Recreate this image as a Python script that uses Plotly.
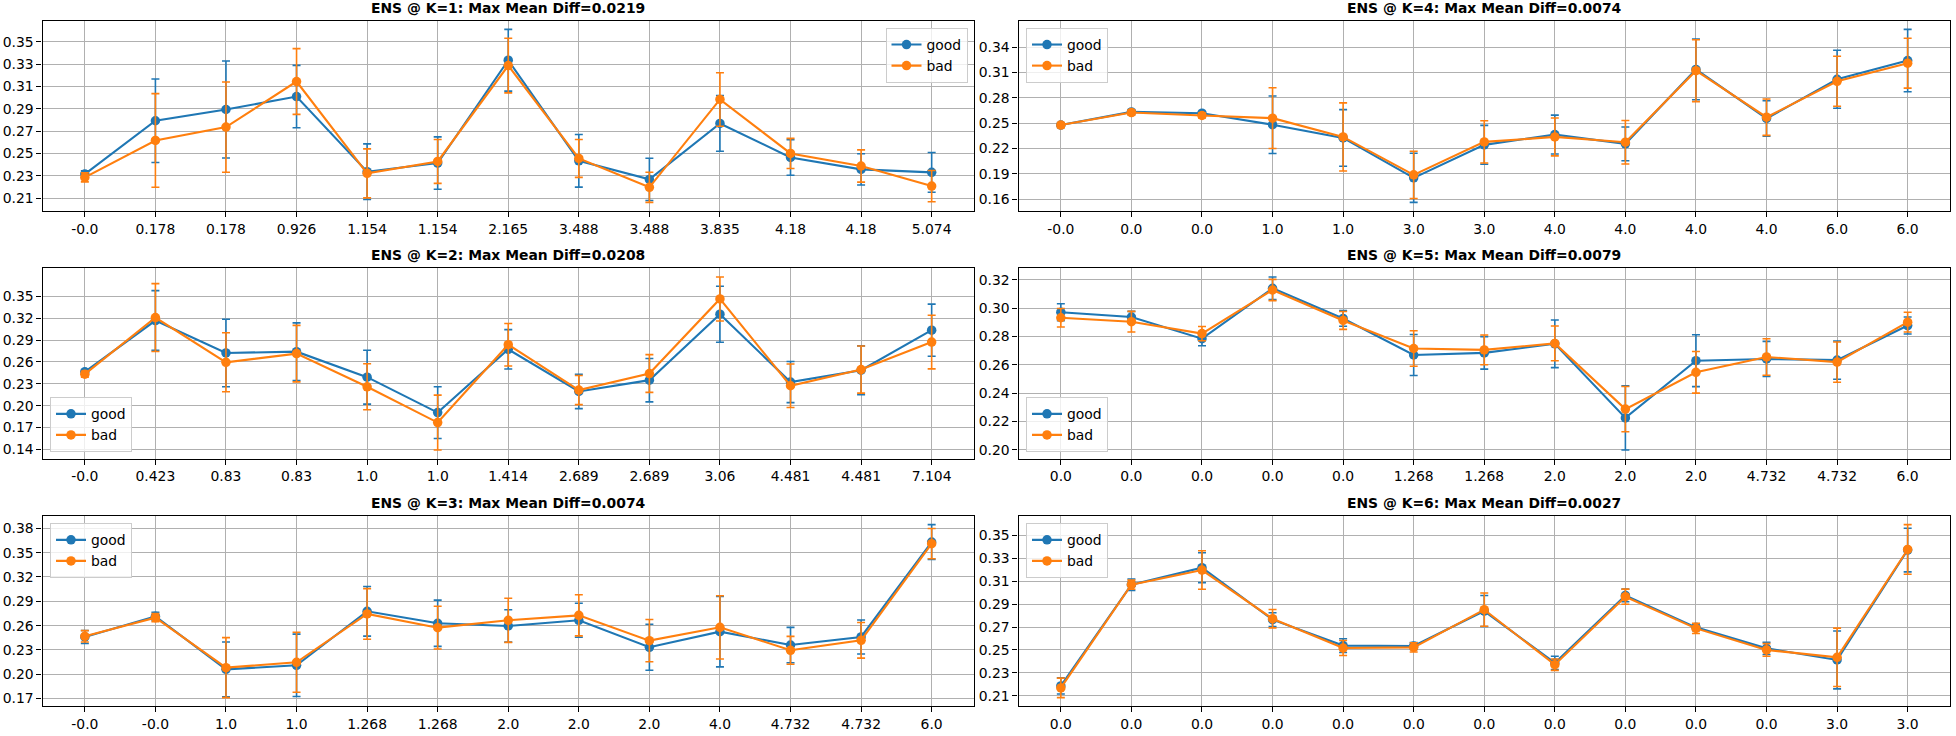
import plotly.graph_objects as go

# ---------------- data ----------------
k_values = [1, 2, 3, 4, 5, 6]
max_mean_diff = ["0.0219", "0.0208", "0.0074", "0.0074", "0.0079", "0.0027"]

x_labels_k1 = ['-0.0', '0.178', '0.178', '0.926', '1.154', '1.154', '2.165', '3.488', '3.488', '3.835', '4.18', '4.18', '5.074']
x_labels_k2 = ['-0.0', '0.423', '0.83', '0.83', '1.0', '1.0', '1.414', '2.689', '2.689', '3.06', '4.481', '4.481', '7.104']
x_labels_k3 = ['-0.0', '-0.0', '1.0', '1.0', '1.268', '1.268', '2.0', '2.0', '2.0', '4.0', '4.732', '4.732', '6.0']
x_labels_k4 = ['-0.0', '0.0', '0.0', '1.0', '1.0', '3.0', '3.0', '4.0', '4.0', '4.0', '4.0', '6.0', '6.0']
x_labels_k5 = ['0.0', '0.0', '0.0', '0.0', '0.0', '1.268', '1.268', '2.0', '2.0', '2.0', '4.732', '4.732', '6.0']
x_labels_k6 = ['0.0', '0.0', '0.0', '0.0', '0.0', '0.0', '0.0', '0.0', '0.0', '0.0', '0.0', '3.0', '3.0']

y_ticks_k1 = [0.21, 0.23, 0.25, 0.27, 0.29, 0.31, 0.33, 0.35]
y_ticks_k2 = [0.14, 0.17, 0.20, 0.23, 0.26, 0.29, 0.32, 0.35]
y_ticks_k3 = [0.17, 0.20, 0.23, 0.26, 0.29, 0.32, 0.35, 0.38]
y_ticks_k4 = [0.16, 0.19, 0.22, 0.25, 0.28, 0.31, 0.34]
y_ticks_k5 = [0.20, 0.22, 0.24, 0.26, 0.28, 0.30, 0.32]
y_ticks_k6 = [0.21, 0.23, 0.25, 0.27, 0.29, 0.31, 0.33, 0.35]

good_mean_k1 = [0.2315, 0.2793, 0.2894, 0.3010, 0.2336, 0.2413, 0.3336, 0.2434, 0.2267, 0.2769, 0.2464, 0.2357, 0.2330]
good_err_k1 = [0.003, 0.0375, 0.0435, 0.028, 0.025, 0.0235, 0.0277, 0.0236, 0.019, 0.025, 0.016, 0.014, 0.0178]
bad_mean_k1 = [0.2285, 0.2616, 0.2736, 0.3145, 0.2321, 0.2428, 0.3288, 0.2455, 0.2196, 0.2984, 0.2500, 0.2387, 0.2207]
bad_err_k1 = [0.004, 0.042, 0.0405, 0.0295, 0.022, 0.0197, 0.0245, 0.017, 0.0135, 0.024, 0.0135, 0.0145, 0.014]

good_mean_k2 = [0.2464, 0.3168, 0.2723, 0.2741, 0.2391, 0.1905, 0.2773, 0.2195, 0.2350, 0.3255, 0.2323, 0.2486, 0.3036]
good_err_k2 = [0.003, 0.041, 0.0463, 0.0395, 0.037, 0.0355, 0.027, 0.0236, 0.0298, 0.0384, 0.0282, 0.0335, 0.0357]
bad_mean_k2 = [0.2432, 0.3209, 0.2595, 0.2714, 0.2259, 0.1768, 0.2836, 0.2214, 0.2441, 0.3464, 0.2273, 0.2495, 0.2873]
bad_err_k2 = [0.004, 0.0466, 0.0405, 0.0387, 0.0316, 0.0377, 0.0291, 0.020, 0.0259, 0.0302, 0.0298, 0.0323, 0.0368]

good_mean_k3 = [0.2460, 0.2715, 0.2061, 0.2111, 0.2777, 0.2629, 0.2596, 0.2666, 0.2333, 0.2526, 0.2361, 0.2460, 0.3631]
good_err_k3 = [0.008, 0.005, 0.0337, 0.0384, 0.0306, 0.0285, 0.020, 0.021, 0.0284, 0.0434, 0.0218, 0.021, 0.0214]
bad_mean_k3 = [0.2468, 0.2698, 0.2082, 0.2148, 0.2744, 0.2575, 0.2666, 0.2727, 0.2415, 0.2579, 0.2296, 0.2419, 0.3611]
bad_err_k3 = [0.007, 0.005, 0.037, 0.037, 0.0312, 0.0263, 0.0272, 0.0253, 0.026, 0.039, 0.0172, 0.022, 0.0187]

good_mean_k4 = [0.2477, 0.2633, 0.2617, 0.2481, 0.2325, 0.1853, 0.2243, 0.2364, 0.2255, 0.3135, 0.2555, 0.3018, 0.3240]
good_err_k4 = [0.002, 0.002, 0.002, 0.034, 0.0335, 0.029, 0.023, 0.023, 0.020, 0.0358, 0.021, 0.0343, 0.0369]
bad_mean_k4 = [0.2477, 0.2625, 0.2590, 0.2559, 0.2337, 0.1888, 0.2278, 0.2337, 0.2274, 0.3120, 0.2570, 0.2995, 0.3209]
bad_err_k4 = [0.003, 0.003, 0.003, 0.036, 0.0403, 0.028, 0.025, 0.0224, 0.0257, 0.0366, 0.0215, 0.0295, 0.0295]

good_mean_k5 = [0.2971, 0.2937, 0.2784, 0.3140, 0.2927, 0.2669, 0.2684, 0.2748, 0.2225, 0.2629, 0.2641, 0.2633, 0.2877]
good_err_k5 = [0.006, 0.004, 0.005, 0.008, 0.0055, 0.0145, 0.0115, 0.0168, 0.0227, 0.0183, 0.0124, 0.0135, 0.006]
bad_mean_k5 = [0.2932, 0.2904, 0.2820, 0.3128, 0.2913, 0.2715, 0.2705, 0.2751, 0.2287, 0.2547, 0.2655, 0.2619, 0.2901]
bad_err_k5 = [0.0065, 0.0073, 0.005, 0.0075, 0.0063, 0.0125, 0.0105, 0.0123, 0.016, 0.0147, 0.0129, 0.0142, 0.007]

good_mean_k6 = [0.2187, 0.3068, 0.3216, 0.2764, 0.2538, 0.2535, 0.2839, 0.2387, 0.2975, 0.2697, 0.2514, 0.2413, 0.3370]
good_err_k6 = [0.007, 0.005, 0.013, 0.006, 0.006, 0.003, 0.0135, 0.0058, 0.0055, 0.003, 0.0053, 0.0252, 0.019]
bad_mean_k6 = [0.2170, 0.3068, 0.3196, 0.2772, 0.2517, 0.2523, 0.2851, 0.2372, 0.2964, 0.2688, 0.2500, 0.2436, 0.3375]
bad_err_k6 = [0.0085, 0.004, 0.0168, 0.008, 0.0065, 0.004, 0.0145, 0.005, 0.0066, 0.0045, 0.0055, 0.0254, 0.0216]

series_names = ["good", "bad"]

# ---------------- figure ----------------
W, H = 1956, 736
BLUE, ORANGE = "#1f77b4", "#ff7f0e"
FONT = "DejaVu Sans"
FS = 13.9

panels = {
    1: (x_labels_k1, y_ticks_k1, good_mean_k1, good_err_k1, bad_mean_k1, bad_err_k1),
    2: (x_labels_k2, y_ticks_k2, good_mean_k2, good_err_k2, bad_mean_k2, bad_err_k2),
    3: (x_labels_k3, y_ticks_k3, good_mean_k3, good_err_k3, bad_mean_k3, bad_err_k3),
    4: (x_labels_k4, y_ticks_k4, good_mean_k4, good_err_k4, bad_mean_k4, bad_err_k4),
    5: (x_labels_k5, y_ticks_k5, good_mean_k5, good_err_k5, bad_mean_k5, bad_err_k5),
    6: (x_labels_k6, y_ticks_k6, good_mean_k6, good_err_k6, bad_mean_k6, bad_err_k6),
}


def fx(p):
    return p / W


def fy(p):
    return (H - p) / H


# pixel boxes (left, right) and (top, bottom)
col_px = [(42.5, 974.0), (1018.5, 1950.0)]
row_px = [(20.7, 211.0), (268.3, 458.7), (516.0, 706.3)]

legend_pos = {
    1: dict(x=fx(974 - 6.5), xanchor="right", y=fy(28), yanchor="top"),
    2: dict(x=fx(50), xanchor="left", y=fy(452.3), yanchor="bottom"),
    3: dict(x=fx(50), xanchor="left", y=fy(523.3), yanchor="top"),
    4: dict(x=fx(1026), xanchor="left", y=fy(28), yanchor="top"),
    5: dict(x=fx(1026), xanchor="left", y=fy(452.3), yanchor="bottom"),
    6: dict(x=fx(1026), xanchor="left", y=fy(523.3), yanchor="top"),
}

fig = go.Figure()
layout = {}
annotations = []

for idx, k in enumerate(k_values):
    col = 0 if k <= 3 else 1
    row = (k - 1) % 3
    xl, xr = col_px[col]
    yt, yb = row_px[row]
    xd = [fx(xl), fx(xr)]
    yd = [fy(yb), fy(yt)]
    xlabels, yticks, gm, ge, bm, be = panels[k]
    n = len(xlabels)
    xs = list(range(n))
    axn = "" if k == 1 else str(k)
    leg = "legend" if k == 1 else "legend%d" % k

    for name, mean, err, color in [(series_names[0], gm, ge, BLUE), (series_names[1], bm, be, ORANGE)]:
        fig.add_trace(go.Scatter(
            x=xs, y=mean, name=name, mode="lines+markers",
            line=dict(color=color, width=2.1),
            marker=dict(color=color, size=9.5),
            error_y=dict(type="data", array=err, visible=True, color=color, thickness=1.6, width=4),
            xaxis="x" + axn, yaxis="y" + axn, legend=leg, showlegend=True,
        ))

    lo = min(min(m - e for m, e in zip(gm, ge)), min(m - e for m, e in zip(bm, be)))
    hi = max(max(m + e for m, e in zip(gm, ge)), max(m + e for m, e in zip(bm, be)))
    pad = 0.05 * (hi - lo)

    axis_common = dict(
        showline=True, linecolor="black", linewidth=1.1, mirror=True,
        ticks="outside", ticklen=5, tickwidth=1.1, tickcolor="black",
        showgrid=True, gridcolor="#b0b0b0", gridwidth=1.1, zeroline=False,
        tickfont=dict(family=FONT, size=FS, color="black"),
    )
    layout["xaxis" + axn] = dict(
        axis_common, domain=xd, anchor="y" + axn, range=[-0.6, n - 1 + 0.6],
        tickmode="array", tickvals=xs, ticktext=xlabels,
    )
    layout["yaxis" + axn] = dict(
        axis_common, domain=yd, anchor="x" + axn, range=[lo - pad, hi + pad],
        tickmode="array", tickvals=yticks, ticktext=["%.2f" % t for t in yticks],
    )
    layout[leg] = dict(
        legend_pos[k], bgcolor="rgba(255,255,255,0.8)", bordercolor="#cccccc", borderwidth=1,
        font=dict(family=FONT, size=FS, color="black"), itemwidth=30, tracegroupgap=0,
    )
    annotations.append(dict(
        text="<b>ENS @ K=%d: Max Mean Diff=%s</b>" % (k, max_mean_diff[idx]),
        xref="paper", yref="paper", x=(xd[0] + xd[1]) / 2, y=yd[1],
        xanchor="center", yanchor="bottom", yshift=3, showarrow=False,
        font=dict(family=FONT, size=FS, color="black"),
    ))

fig.update_layout(
    width=W, height=H, margin=dict(l=0, r=0, t=0, b=0),
    paper_bgcolor="white", plot_bgcolor="white",
    font=dict(family=FONT, size=FS, color="black"),
    annotations=annotations, **layout,
)

# remove the page's default body margin so the figure starts at the window's corner
fig.write_html("out.html", config={"displayModeBar": False},
               post_script="document.body.style.margin='0px';")
